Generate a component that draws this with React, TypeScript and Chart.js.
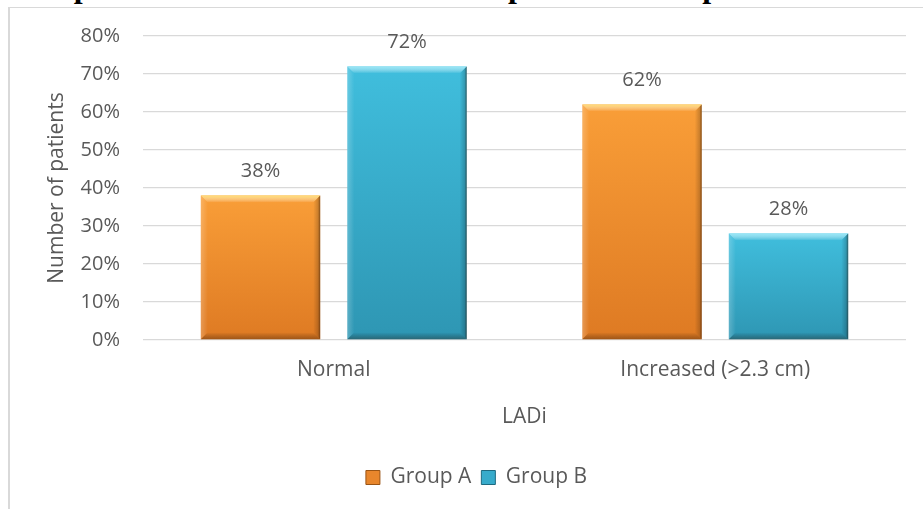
import React, { useEffect, useRef } from "react";
import { Chart, registerables } from "chart.js";

Chart.register(...registerables);

const categories = ["Normal", "Increased (>2.3 cm)"];
const seriesNames = ["Group A", "Group B"];
const groupA = [38, 62];
const groupB = [72, 28];
const yMax = 80;
const yStep = 10;

const FONT = '"Open Sans", "Noto Sans", sans-serif';
const TEXT = "#595959";

const topColors = ["#F99E38", "#40BEDD"];
const bottomColors = ["#DE7A23", "#2E96B3"];
const legendColors = ["#E8862C", "#37ABCB"];
const legendBorders = ["#9A5414", "#1E6A80"];
const bevelLight = ["rgba(255,224,120,0.95)", "rgba(160,235,250,0.9)"];

function barGradient(di: number) {
  return (c: any) => {
    const chart = c.chart;
    const ys = chart.scales && chart.scales.y;
    if (!ys || c.raw == null) return bottomColors[di];
    const top = ys.getPixelForValue(c.raw);
    const base = ys.getPixelForValue(0);
    const g = chart.ctx.createLinearGradient(0, top, 0, base);
    g.addColorStop(0, topColors[di]);
    g.addColorStop(1, bottomColors[di]);
    return g;
  };
}

function poly(ctx: CanvasRenderingContext2D, pts: number[][], fill: any) {
  ctx.beginPath();
  ctx.moveTo(pts[0][0], pts[0][1]);
  for (let i = 1; i < pts.length; i++) ctx.lineTo(pts[i][0], pts[i][1]);
  ctx.closePath();
  ctx.fillStyle = fill;
  ctx.fill();
}

const bevelPlugin = {
  id: "bevelAndLabels",
  afterDatasetsDraw(chart: any) {
    const ctx: CanvasRenderingContext2D = chart.ctx;
    chart.data.datasets.forEach((ds: any, di: number) => {
      const meta = chart.getDatasetMeta(di);
      meta.data.forEach((bar: any, i: number) => {
        const { x, y, base, width } = bar.getProps(["x", "y", "base", "width"], true);
        const l = x - width / 2;
        const r = x + width / 2;
        const t = Math.min(y, base);
        const b = Math.max(y, base);
        const e = 7;
        ctx.save();
        let g = ctx.createLinearGradient(0, t, 0, t + e);
        g.addColorStop(0, bevelLight[di]);
        g.addColorStop(1, "rgba(255,255,255,0)");
        poly(ctx, [[l, t], [r, t], [r - e, t + e], [l + e, t + e]], g);
        g = ctx.createLinearGradient(l, 0, l + e, 0);
        g.addColorStop(0, "rgba(255,255,255,0.22)");
        g.addColorStop(1, "rgba(255,255,255,0)");
        poly(ctx, [[l, t], [l + e, t + e], [l + e, b - e], [l, b]], g);
        g = ctx.createLinearGradient(r, 0, r - e, 0);
        g.addColorStop(0, "rgba(40,15,0,0.55)");
        g.addColorStop(0.3, "rgba(0,0,0,0.18)");
        g.addColorStop(1, "rgba(0,0,0,0)");
        poly(ctx, [[r, t], [r, b], [r - e, b - e], [r - e, t + e]], g);
        g = ctx.createLinearGradient(0, b, 0, b - e);
        g.addColorStop(0, "rgba(40,15,0,0.35)");
        g.addColorStop(1, "rgba(0,0,0,0)");
        poly(ctx, [[l, b], [r, b], [r - e, b - e], [l + e, b - e]], g);
        ctx.restore();

        ctx.save();
        ctx.font = `20px ${FONT}`;
        ctx.fillStyle = TEXT;
        ctx.textAlign = "center";
        ctx.textBaseline = "middle";
        ctx.fillText(ds.data[i] + "%", x, t - 24);
        ctx.restore();
      });
    });
  },
};

export default function App() {
  const ref = useRef<HTMLCanvasElement | null>(null);

  useEffect(() => {
    if (!ref.current) return;
    const chart = new Chart(ref.current, {
      type: "bar",
      data: {
        labels: categories,
        datasets: [
          {
            label: seriesNames[0],
            data: groupA,
            backgroundColor: barGradient(0),
            borderWidth: 0,
            categoryPercentage: 0.768,
            barPercentage: 0.815,
          },
          {
            label: seriesNames[1],
            data: groupB,
            backgroundColor: barGradient(1),
            borderWidth: 0,
            categoryPercentage: 0.768,
            barPercentage: 0.815,
          },
        ],
      },
      options: {
        animation: false,
        responsive: false,
        layout: { padding: { top: 29, right: 0, bottom: 11, left: 0 } },
        plugins: {
          tooltip: { enabled: false },
          legend: {
            position: "bottom",
            labels: {
              color: TEXT,
              font: { family: FONT, size: 21 },
              boxWidth: 14,
              boxHeight: 14,
              padding: 10,
              generateLabels: (ch: any) =>
                ch.data.datasets.map((ds: any, i: number) => ({
                  text: ds.label,
                  fillStyle: legendColors[i],
                  strokeStyle: legendBorders[i],
                  lineWidth: 1,
                  hidden: false,
                  datasetIndex: i,
                  fontColor: TEXT,
                })),
            },
          },
        },
        scales: {
          x: {
            grid: { display: false, drawTicks: false },
            border: { display: false },
            ticks: { color: TEXT, font: { family: FONT, size: 21 }, padding: 17 },
            title: {
              display: true,
              text: "LADi",
              color: TEXT,
              font: { family: FONT, size: 21 },
              padding: { top: 0, bottom: 27 },
            },
            afterFit: (s: any) => {
              s.height = 117;
            },
          },
          y: {
            min: 0,
            max: yMax,
            ticks: {
              stepSize: yStep,
              color: TEXT,
              font: { family: FONT, size: 20 },
              padding: 0,
              callback: (v: any) => v + "%",
            },
            grid: {
              color: "#D9D9D9",
              lineWidth: 1.3,
              drawTicks: true,
              tickLength: 23,
              tickColor: "rgba(0,0,0,0)",
            },
            border: { display: false },
            title: {
              display: true,
              text: "Number of patients",
              color: TEXT,
              font: { family: FONT, size: 21 },
              padding: { top: 36, bottom: 0 },
            },
            afterFit: (s: any) => {
              s.width = 135;
            },
          },
          yRightSpace: {
            type: "linear",
            position: "right",
            display: true,
            grid: { display: false, drawOnChartArea: false, drawTicks: false },
            border: { display: false },
            ticks: { display: false, padding: 0 },
            afterFit: (s: any) => {
              s.width = 39;
            },
          },
        },
      },
      plugins: [bevelPlugin],
    });
    return () => chart.destroy();
  }, []);

  return (
    <div
      style={{
        position: "fixed",
        left: 0,
        top: 0,
        width: 923,
        height: 509,
        overflow: "hidden",
        background: "#fff",
      }}
    >
      <div
        style={{
          position: "absolute",
          left: 0,
          top: 0,
          width: 923,
          height: 7,
          overflow: "hidden",
        }}
      >
        <div
          style={{
            position: "absolute",
            left: 8,
            top: -30,
            width: 712,
            fontFamily: '"Liberation Serif", "DejaVu Serif", serif',
            fontWeight: "bold",
            fontSize: 32,
            lineHeight: "32px",
            color: "#000",
            textAlign: "justify",
          }}
        >
          Comparison of LADi between Group A and Group B
        </div>
      </div>
      <div
        style={{
          position: "absolute",
          left: 8,
          top: 7,
          width: 937,
          height: 520,
          background: "#fff",
          borderLeft: "2px solid #D9D9D9",
          borderTop: "1px solid #D9D9D9",
          boxSizing: "border-box",
          zIndex: 1,
        }}
      >
        <canvas
          ref={ref}
          width={937}
          height={502}
          style={{ position: "absolute", left: -2, top: -1, width: 937, height: 502 }}
        />
      </div>
    </div>
  );
}
